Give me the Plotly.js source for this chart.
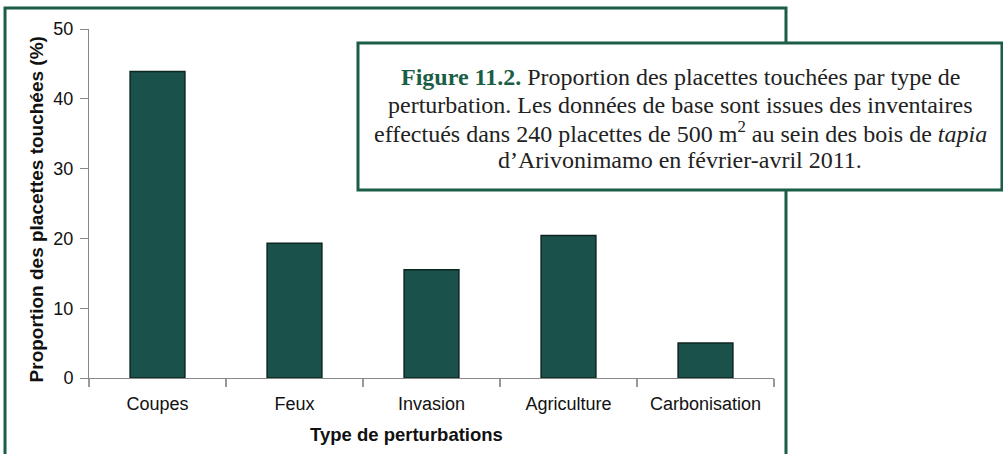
<!DOCTYPE html>
<html>
<head>
<meta charset="utf-8">
<script src="https://cdn.plot.ly/plotly-3.0.1.min.js"></script>
<style>
html,body{margin:0;padding:0;background:#fff;}
#chart{width:1003px;height:454px;}
</style>
</head>
<body>
<div id="chart"></div>
<script>
// Data
const categories = ["Coupes", "Feux", "Invasion", "Agriculture", "Carbonisation"];
const proportions = [43.9, 19.3, 15.5, 20.4, 5.0];
const yTicks = [0, 10, 20, 30, 40, 50];
const yTitle = "Proportion des placettes touchées (%)";
const xTitle = "Type de perturbations";
const captionLines = [
  "<b><span style='color:#1b5e45'>Figure 11.2.</span></b> Proportion des placettes touchées par type de",
  "perturbation. Les données de base sont issues des inventaires",
  "effectués dans 240 placettes de 500 m<sup>2</sup> au sein des bois de <i>tapia</i>",
  "d’Arivonimamo en février-avril 2011."
];

const green = "#1b5e45";
const sans = "Liberation Sans, Arial, sans-serif";
const serif = "Liberation Serif, Times New Roman, serif";

const trace = {
  type: "bar",
  x: categories,
  y: proportions,
  marker: {color: "#1b514b", line: {color: "#0c2622", width: 1.5}},
  hoverinfo: "x+y"
};

// caption line vertical centres (paper units inside the caption box)
const captionY = [0.862, 0.781, 0.705, 0.624];

const annotations = [
  {xref: "paper", yref: "paper", x: 0.4628, y: -0.1605, xanchor: "center", yanchor: "middle",
   text: "<b>" + xTitle + "</b>", showarrow: false,
   font: {family: sans, size: 18.5, color: "#111"}},
  {xref: "paper", yref: "paper", x: -0.0774, y: 0.483, xanchor: "center", yanchor: "middle",
   textangle: -90, text: "<b>" + yTitle + "</b>", showarrow: false,
   font: {family: sans, size: 19, color: "#111"}}
];
captionLines.forEach((line, i) => {
  annotations.push({
    xref: "paper", yref: "paper", x: 0.8628, y: captionY[i], xanchor: "center", yanchor: "middle",
    showarrow: false, text: line,
    font: {family: serif, size: 24, color: "#222"}
  });
});

const layout = {
  width: 1003,
  height: 454,
  margin: {l: 89, r: 229, t: 29, b: 76},
  paper_bgcolor: "#ffffff",
  plot_bgcolor: "#ffffff",
  showlegend: false,
  bargap: 0.6,
  font: {family: sans, size: 17, color: "#111"},
  xaxis: {
    type: "category",
    showline: true, linecolor: "#888", linewidth: 1,
    ticks: "outside", tickson: "boundaries", ticklen: 8, tickcolor: "#999", tickwidth: 1.5,
    ticklabelstandoff: 9,
    tickfont: {family: sans, size: 18, color: "#111"},
    showgrid: false, zeroline: false,
    fixedrange: true
  },
  yaxis: {
    range: [0, 50],
    tickvals: yTicks,
    showline: true, linecolor: "#888", linewidth: 1,
    ticks: "outside", ticklen: 8, tickcolor: "#888",
    ticklabelstandoff: 3,
    tickfont: {family: sans, size: 18, color: "#111"},
    showgrid: false, zeroline: false,
    fixedrange: true
  },
  shapes: [
    {type: "rect", xref: "paper", yref: "paper", layer: "above",
     x0: -0.1226, x1: 1.0175, y0: -0.30, y1: 1.060,
     line: {color: green, width: 3}, fillcolor: "rgba(0,0,0,0)"},
    {type: "rect", xref: "paper", yref: "paper", layer: "above",
     x0: 0.3927, x1: 1.3328, y0: 0.5387, y1: 0.9599,
     line: {color: green, width: 3}, fillcolor: "#ffffff"}
  ],
  annotations: annotations
};

Plotly.newPlot("chart", [trace], layout, {displayModeBar: false, staticPlot: true});
</script>
</body>
</html>
